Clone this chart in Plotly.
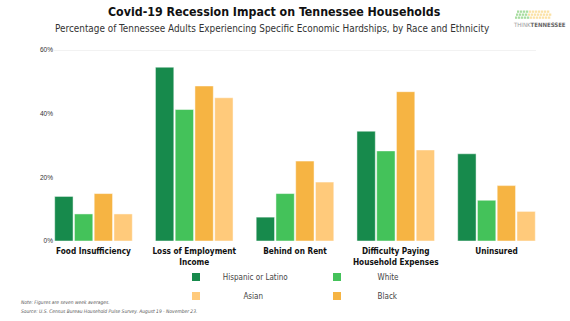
import plotly.graph_objects as go

categories = ["Food Insufficiency", "Loss of Employment<br>Income", "Behind on Rent",
              "Difficulty Paying<br>Household Expenses", "Uninsured"]
hispanic = [14.0, 54.6, 7.5, 34.5, 27.4]
white = [8.5, 41.3, 14.9, 28.3, 12.8]
black = [14.9, 48.7, 25.1, 46.9, 17.4]
asian = [8.5, 45.0, 18.5, 28.6, 9.3]
y_ticks = [0, 20, 40, 60]
y_ticktext = ["0%", "20%", "40%", "60%"]

series = [
    ("Hispanic or Latino", hispanic, "#178A4C"),
    ("White", white, "#44C25A"),
    ("Black", black, "#F6B443"),
    ("Asian", asian, "#FFCA7B"),
]

W, H = 570, 321
L, R, T, B = 54, 34, 50, 80
PW, PH = W - L - R, H - T - B

def px_x(x):
    return (x - L) / PW

def px_y(y):
    return (H - B - y) / PH

NARROW = "DejaVu Sans Condensed, sans-serif"
fig = go.Figure()
for name, vals, col in series:
    fig.add_trace(go.Bar(x=categories, y=vals, name=name, marker_color=col,
                         marker_line=dict(color="rgba(255,255,255,0.8)", width=0.6),
                         showlegend=False, hoverinfo="skip"))

NB = "\u00a0"
legend_items = [
    ("Hispanic or Latino", "#178A4C", "legend", 1, 3),
    ("Asian", "#FFCA7B", "legend", 2, 12),
    ("White", "#44C25A", "legend2", 1, 9),
    ("Black", "#F6B443", "legend2", 2, 9),
]
for name, col, lg, rank, pad in legend_items:
    fig.add_trace(go.Scatter(x=[None], y=[None], mode="markers", name=NB * pad + name,
                             marker=dict(symbol="square", size=8, color=col),
                             legend=lg, legendrank=rank, showlegend=True))

leg_font = dict(family=NARROW, size=8, color="#444444")
fig.update_layout(
    width=W, height=H,
    margin=dict(l=L, r=R, t=T, b=B, autoexpand=False),
    paper_bgcolor="white", plot_bgcolor="white",
    barmode="group", bargap=0.216, bargroupgap=0.07,
    legend=dict(x=px_x(176), y=px_y(262.5), xanchor="left", yanchor="top",
                orientation="v", font=leg_font, bgcolor="rgba(0,0,0,0)",
                tracegroupgap=0),
    legend2=dict(x=px_x(317), y=px_y(262.5), xanchor="left", yanchor="top",
                 orientation="v", font=leg_font, bgcolor="rgba(0,0,0,0)",
                 tracegroupgap=0),
    xaxis=dict(type="category", range=[-0.392, 4.392], showgrid=False, showline=False,
               ticks="", ticklabelstandoff=4, automargin=False,
               tickfont=dict(family=NARROW, size=8.2, color="#111111", weight="bold")),
    yaxis=dict(range=[0, 60], tickvals=y_ticks, ticktext=y_ticktext, showgrid=False,
               zeroline=False, showline=False, ticks="", automargin=False,
               tickfont=dict(family="Liberation Sans, Arial, sans-serif", size=6.5,
                             color="#333333")),
    font=dict(family=NARROW),
)

fig.add_shape(type="line", xref="paper", yref="y", x0=0, x1=1, y0=60, y1=60,
              line=dict(color="#E6E6E6", width=1), layer="below")

ann = [
    dict(text="<b>Covid-19 Recession Impact on Tennessee Households</b>", x=px_x(274),
         y=px_y(12), font=dict(family=NARROW, size=12.3, color="#111111")),
    dict(text="Percentage of Tennessee Adults Experiencing Specific Economic Hardships, by Race and Ethnicity",
         x=px_x(272), y=px_y(28.5), font=dict(family=NARROW, size=9.9, color="#333333")),
    dict(text="<i>Note: Figures are seven week averages.</i>", x=px_x(20), y=px_y(302),
         xanchor="left", font=dict(family=NARROW, size=4.9, color="#555555")),
    dict(text="<i>Source: U.S. Census Bureau Household Pulse Survey. August 19 - November 23.</i>",
         x=px_x(20), y=px_y(311), xanchor="left",
         font=dict(family=NARROW, size=4.9, color="#555555")),
    dict(text="<span style='color:#9a9a9a'>THINK</span><b>TENNESSEE</b>", x=px_x(539),
         y=px_y(25), font=dict(family=NARROW, size=6, color="#666666")),
]
for a in ann:
    a.setdefault("xanchor", "center")
    a.setdefault("yanchor", "middle")
    fig.add_annotation(xref="paper", yref="paper", showarrow=False, borderpad=0, **a)

# logo mosaic
rows = [(10.5, 517, 551), (13.5, 516, 552), (16.5, 515, 550)]
for ry, x0, x1 in rows:
    cx = x0
    while cx + 2 <= x1:
        col = "#A8DDA0" if cx < 528 else "#FBE2A6"
        fig.add_shape(type="rect", xref="paper", yref="paper",
                      x0=px_x(cx), x1=px_x(cx + 2.3), y0=px_y(ry + 2.3), y1=px_y(ry),
                      line_width=0, fillcolor=col)
        cx += 3

fig.write_html("out.html")
